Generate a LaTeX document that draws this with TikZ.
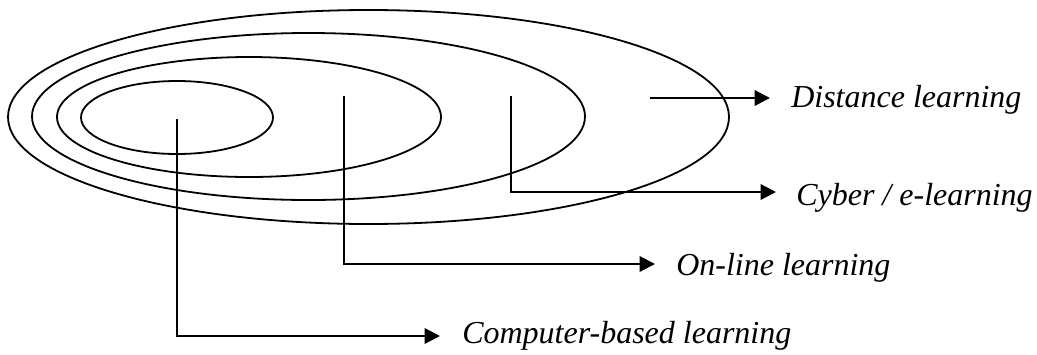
\documentclass[tikz,border=0pt]{standalone}
\usepackage{fontspec}
\setmainfont{Liberation Serif}
\usetikzlibrary{arrows.meta}
\begin{document}
\begin{tikzpicture}[x=0.75pt,y=-0.75pt,
  ring/.style={line width=1.35pt},
  conn/.style={line width=1.6pt,-{Triangle[length=11.5pt,width=11.5pt]}},
  lab/.style={anchor=base west,inner sep=0pt,font=\fontsize{24}{28}\selectfont\itshape}]
\useasboundingbox (0,0) rectangle (1037,354);
% rings
\coordinate (e1) at (368.5,117);
\coordinate (e2) at (308.5,116.5);
\coordinate (e3) at (249,117);
\coordinate (e4) at (177,117.5);
\draw[ring] (e1) ellipse [x radius=270.375pt, y radius=80.25pt];
\draw[ring] (e2) ellipse [x radius=207.375pt, y radius=62.625pt];
\draw[ring] (e3) ellipse [x radius=144pt, y radius=45pt];
\draw[ring] (e4) ellipse [x radius=72pt, y radius=27.375pt];
% labels
\node[lab] (dist) at (791,107) {Distance learning};
\node[lab] (cyber) at (796,205) {Cyber / e-learning};
\node[lab] (online) at (676,275) {On-line learning};
\node[lab] (cbl) at (462,343) {Computer-based learning};
% connector ends
\coordinate (sd) at (650,98);   \coordinate (td) at (770,98);
\coordinate (sc) at (511,96);   \coordinate (tc) at (776,192);
\coordinate (so) at (344,96);   \coordinate (to) at (655,264);
\coordinate (sb) at (177,119);  \coordinate (tb) at (440,336);
\draw[conn] (sd) -- (td);
\draw[conn] (sc) |- (tc);
\draw[conn] (so) |- (to);
\draw[conn] (sb) |- (tb);
\end{tikzpicture}
\end{document}
